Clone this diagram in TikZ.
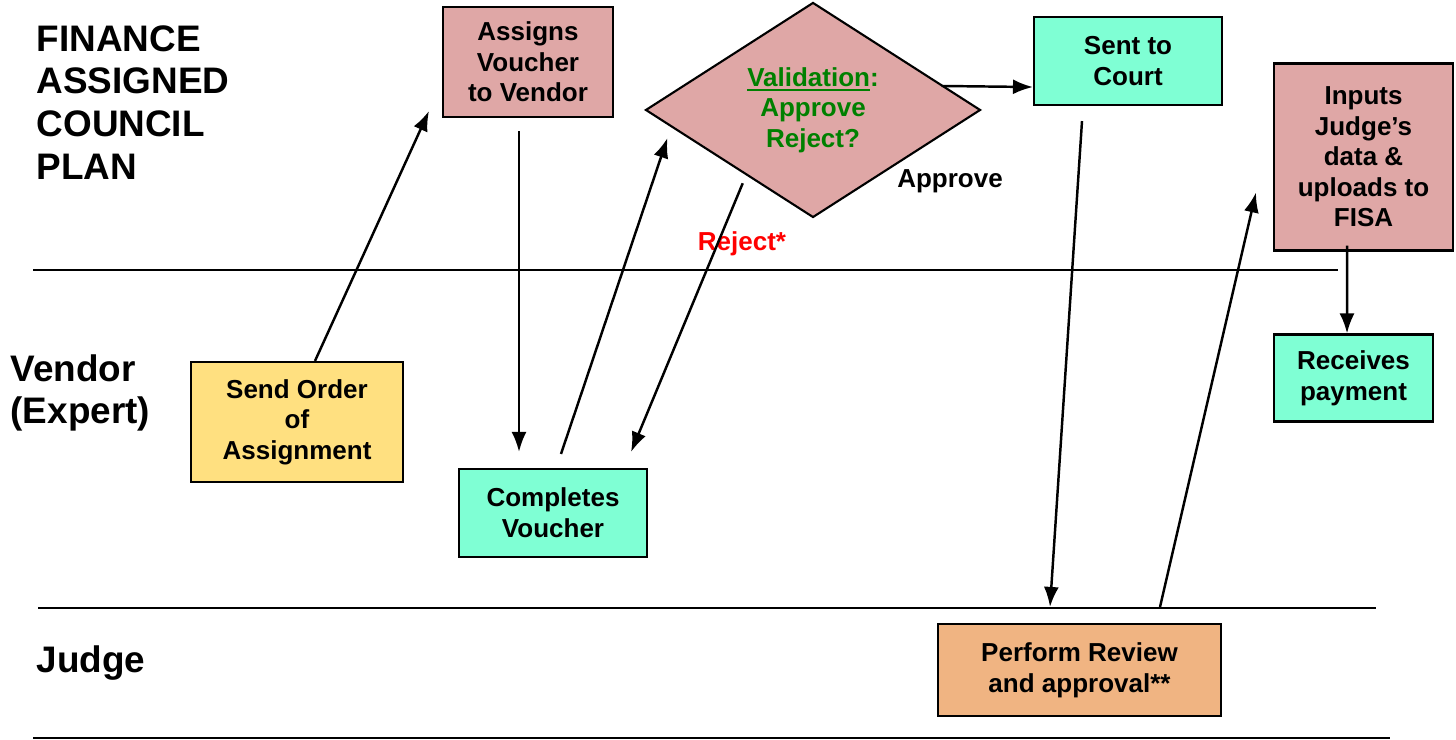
\documentclass[tikz,border=0pt]{standalone}
\usepackage{fontspec}
\setmainfont{Liberation Sans}
\usetikzlibrary{shapes.geometric, arrows.meta, calc}

\definecolor{finpink}{RGB}{223,167,166}
\definecolor{vendaqua}{RGB}{127,255,212}
\definecolor{ordyellow}{RGB}{255,224,128}
\definecolor{judgeorange}{RGB}{240,180,130}
\definecolor{validgreen}{RGB}{0,128,0}

\newcommand{\thickul}[1]{\leavevmode\setbox0\hbox{#1}\rlap{\rule[-1.3pt]{\wd0}{0.6pt}}\box0}

\begin{document}
\begin{tikzpicture} [
  box/.style = {draw = black, line width = 0.6pt, align = center, inner sep = 0pt,
                font = \fontsize{7.4}{8.7}\selectfont\bfseries},
  lanetext/.style = {anchor = west, align = left, inner sep = 0pt,
                     font = \fontsize{10.5}{12.2}\selectfont\bfseries},
  flow/.style = {-{Latex[length = 2mm, width = 1.5mm]}, line width = 0.7pt}
]
\useasboundingbox (0.0, 0.0) rectangle (14.56, 7.40);

% swim lanes
\draw[line width = 0.6pt] (0.33, 4.70) -- (13.38, 4.70);
\draw[line width = 0.6pt] (0.38, 1.32) -- (13.76, 1.32);
\draw[line width = 0.6pt] (0.33, 0.02) -- (13.90, 0.02);
\node[lanetext] (finance) at (0.36, 6.375) {FINANCE\\ASSIGNED\\COUNCIL\\PLAN};
\node[lanetext] (vendor) at (0.10, 3.47) {Vendor\\(Expert)};
\node[lanetext] (judge) at (0.36, 0.77) {Judge};

% steps
\node[box, fill = ordyellow, minimum width = 2.12cm, minimum height = 1.20cm] (send) at (2.97, 3.18) {Send Order\\of\\Assignment};
\node[box, fill = finpink, minimum width = 1.70cm, minimum height = 1.10cm] (assigns) at (5.28, 6.78) {Assigns\\Voucher\\to Vendor};
\node[box, fill = vendaqua, minimum width = 1.88cm, minimum height = 0.88cm] (completes) at (5.53, 2.27) {Completes\\Voucher};
\node[box, shape = diamond, fill = finpink, text = validgreen, aspect = 1.56,
      minimum width = 3.35cm, minimum height = 2.15cm] (valid) at (8.13, 6.30) {\thickul{Validation}:\\Approve\\Reject?};
\node[box, fill = vendaqua, minimum width = 1.88cm, minimum height = 0.88cm] (court) at (11.28, 6.79) {Sent to\\Court};
\node[box, fill = judgeorange, minimum width = 2.83cm, minimum height = 0.92cm] (perform) at (10.795, 0.70) {Perform Review\\and approval**};
\node[box, fill = finpink, minimum width = 1.79cm, minimum height = 1.87cm] (inputs) at (13.635, 5.83) {Inputs\\Judge’s\\data \&\\uploads to\\FISA};
\node[box, fill = vendaqua, minimum width = 1.59cm, minimum height = 0.87cm] (receives) at (13.535, 3.62) {Receives\\payment};

% labels on the decision
\node[font = \fontsize{7.4}{8.7}\selectfont\bfseries] (approve) at (9.50, 5.59) {Approve};
\node[font = \fontsize{7.4}{8.7}\selectfont\bfseries, text = red] (reject) at (7.42, 4.96) {Reject*};

% flow
\draw[flow] ($(send.north) + (0.18, 0.0)$) -- ($(assigns.south west) + (-0.13, 0.07)$);
\draw[flow] ($(assigns.south) + (-0.09, -0.13)$) -- ($(completes.north) + (-0.34, 0.16)$);
\draw[flow] ($(completes.north) + (0.08, 0.14)$) -- ($(valid.west) + (0.23, -0.28)$);
\draw[flow] ($(valid.south west) + (0.14, -0.19)$) -- ($(completes.north east) + (-0.17, 0.16)$);
\draw[flow] ($(valid.east) + (-0.40, 0.24)$) -- ($(court.south west) + (0.0, 0.19)$);
\draw[flow] ($(court.south) + (-0.46, -0.15)$) -- ($(perform.north) + (-0.295, 0.16)$);
\draw[flow] ($(perform.north) + (0.805, 0.16)$) -- ($(inputs.west) + (-0.17, -0.355)$);
\draw[flow] ($(inputs.south) + (-0.165, 0.06)$) -- ($(receives.north) + (-0.065, 0.0)$);
\end{tikzpicture}
\end{document}
